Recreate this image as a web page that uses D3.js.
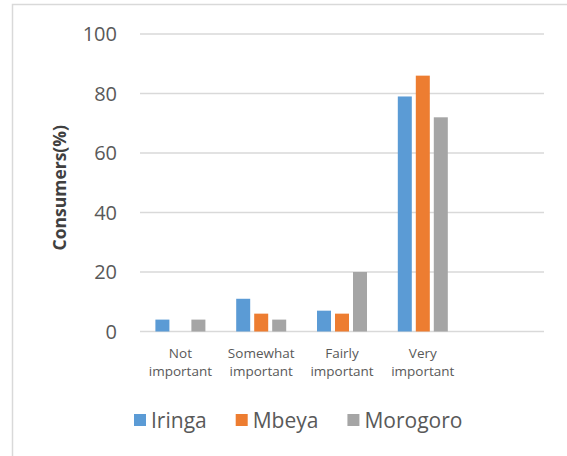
<!DOCTYPE html>
<html>
<head>
<meta charset="utf-8">
<script src="https://cdn.jsdelivr.net/npm/d3@7"></script>
<style>
  body { margin: 0; background: #fff; }
  text { font-family: 'Open Sans', 'Noto Sans', sans-serif; }
</style>
</head>
<body>
<div id="chart"></div>
<script>
const categories = [['Not', 'important'], ['Somewhat', 'important'], ['Fairly', 'important'], ['Very', 'important'], ['']];
const seriesNames = ['Iringa', 'Mbeya', 'Morogoro'];
const iringa = [4, 11, 7, 79, null];
const mbeya = [0, 6, 6, 86, null];
const morogoro = [4, 4, 20, 72, null];
const yTicks = [0, 20, 40, 60, 80, 100];
const colors = ['#5b9bd5', '#ed7d31', '#a5a5a5'];

const W = 567;
const H = 456;
const plot = { left: 140, right: 544, top: 34, bottom: 331.5 };

const svg = d3.select('#chart').append('svg')
  .attr('width', W)
  .attr('height', H);

// chart frame (only left/top edges fall inside the picture)
svg.append('rect')
  .attr('x', 12.5).attr('y', 4.5)
  .attr('width', 700).attr('height', 600)
  .attr('fill', 'none')
  .attr('stroke', '#d9d9d9')
  .attr('stroke-width', 1.5);

const catKeys = categories.map((c, i) => i);
const x0 = d3.scaleBand().domain(catKeys).range([plot.left, plot.right]).padding(0);
const groupW = 50;
const x1 = d3.scaleBand().domain(seriesNames).range([0, groupW]).paddingInner(4 / 18).paddingOuter(0);
const y = d3.scaleLinear().domain([0, 100]).range([plot.bottom, plot.top]);

// gridlines
svg.append('g')
  .selectAll('line')
  .data(yTicks)
  .enter().append('line')
  .attr('x1', plot.left)
  .attr('x2', plot.right)
  .attr('y1', d => y(d))
  .attr('y2', d => y(d))
  .attr('stroke', '#d9d9d9')
  .attr('stroke-width', 1.5);

// y tick labels
svg.append('g')
  .selectAll('text')
  .data(yTicks)
  .enter().append('text')
  .attr('x', 117)
  .attr('y', d => y(d))
  .attr('dy', '0.35em')
  .attr('text-anchor', 'end')
  .attr('fill', '#595959')
  .style('font-size', '20px')
  .text(d => d);

// y axis title
svg.append('text')
  .attr('transform', `translate(66, ${(plot.top + plot.bottom) / 2 + 5})rotate(-90)`)
  .attr('text-anchor', 'middle')
  .attr('fill', '#404040')
  .style('font-size', '17.5px')
  .style('font-weight', 'bold')
  .text('Consumers(%)');

// bars
const seriesData = [iringa, mbeya, morogoro];
const rows = [];
seriesData.forEach((vals, s) => {
  vals.forEach((v, i) => {
    if (v !== null && v > 0) rows.push({ cat: i, series: seriesNames[s], s, v });
  });
});

const off = (x0.bandwidth() - groupW) / 2;
svg.append('g')
  .selectAll('rect')
  .data(rows)
  .enter().append('rect')
  .attr('x', d => x0(d.cat) + off + x1(d.series))
  .attr('y', d => y(d.v))
  .attr('width', x1.bandwidth())
  .attr('height', d => y(0) - y(d.v))
  .attr('fill', d => colors[d.s]);

// category labels
const catLabel = svg.append('g')
  .selectAll('text')
  .data(categories)
  .enter().append('text')
  .attr('text-anchor', 'middle')
  .attr('fill', '#595959')
  .style('font-size', '13.5px');

catLabel.selectAll('tspan')
  .data((d, i) => d.map(line => ({ line, i })))
  .enter().append('tspan')
  .attr('x', d => x0(d.i) + x0.bandwidth() / 2)
  .attr('y', (d, j) => 357.5 + j * 18)
  .text(d => d.line);

// legend
const legend = svg.append('g');
let lx = 134;
seriesNames.forEach((name, i) => {
  legend.append('rect')
    .attr('x', lx).attr('y', 414)
    .attr('width', 12).attr('height', 12)
    .attr('fill', colors[i]);
  const t = legend.append('text')
    .attr('x', lx + 17)
    .attr('y', 428)
    .attr('fill', '#595959')
    .style('font-size', '21px')
    .text(name);
  lx += 17 + t.node().getComputedTextLength() + 29;
});
</script>
</body>
</html>
